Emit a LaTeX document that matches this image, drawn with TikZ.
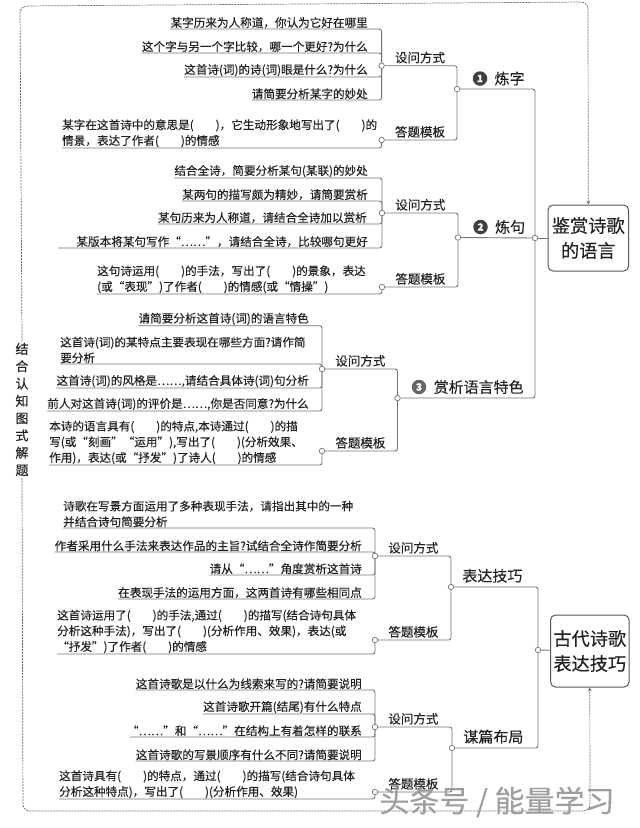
\documentclass[tikz,border=0pt]{standalone}
\usepackage{fontspec}
\usepackage{xcolor}
\usetikzlibrary{arrows,positioning,backgrounds}
\setmainfont[FakeBold=0.25]{Noto Sans CJK SC}
\definecolor{ink}{rgb}{0.13,0.13,0.13}
\definecolor{wire}{rgb}{0.45,0.45,0.45}
\newcommand{\kh}{(\hspace{1.9em})}
\tikzset{
  leaf/.style={font=\fontsize{11.6}{15.7}\selectfont,text=ink,inner xsep=0pt,inner ysep=0.6pt,align=left},
  sublabel/.style={font=\fontsize{12.5}{15}\selectfont,text=ink,inner sep=0pt},
  biglabel/.style={font=\fontsize{15}{18}\selectfont,text=ink,inner sep=0pt},
  numdot/.style={circle,fill=black!75,text=white,inner sep=0pt,minimum size=14.5pt,font=\fontsize{10}{10}\selectfont\bfseries},
  jun/.style={circle,draw=wire,fill=white,line width=0.7pt,inner sep=0pt,minimum size=5.5pt},
  link/.style={draw=wire,line width=0.9pt,rounded corners=2.5pt},
  bigbox/.style={draw=black!65,line width=1pt,rounded corners=5pt,fill=white,inner sep=0pt,align=center,
    text=ink,font=\fontsize{18.2}{25}\selectfont},
  frame/.style={draw=black!60,line width=0.7pt,dash pattern=on 2pt off 1pt,rounded corners=7pt},
}
\begin{document}
\begin{tikzpicture}[x=1pt,y=-1pt]
  \useasboundingbox (0,0) rectangle (640,828);
  % the two boxes on the right
  \node[bigbox,minimum width=80.6pt,minimum height=66pt] (yuyan) at (588.3,238) {鉴赏诗歌\\的语言};
  \node[bigbox,minimum width=78.5pt,minimum height=72pt] (jiqiao) at (589.8,651) {古代诗歌\\表达技巧};
  \node[jun] (J1) at (535,238) {};
  \node[jun] (J2) at (538,650) {};
  % junctions
  \node[jun] (j1a) at (381.6,65.7) {};
  \node[jun] (j1b) at (381.6,140) {};
  \node[jun] (j1) at (457,89) {};
  \node[jun] (j2a) at (382,213) {};
  \node[jun] (j2b) at (382,287) {};
  \node[jun] (j2) at (458,237.5) {};
  \node[jun] (j3a) at (322,369) {};
  \node[jun] (j3b) at (322,451) {};
  \node[jun] (j3) at (397.5,398) {};
  \node[jun] (j4a) at (375,556) {};
  \node[jun] (j4b) at (375,640) {};
  \node[jun] (j4) at (451,587) {};
  \node[jun] (j5a) at (375,727) {};
  \node[jun] (j5b) at (375,792) {};
  \node[jun] (j5) at (452,748) {};
  % 炼字
  \node[leaf,anchor=south east] (a1) at (368,29) {某字历来为人称道，你认为它好在哪里};
  \node[leaf,anchor=south east] (a2) at (368,53) {这个字与另一个字比较，哪一个更好?为什么};
  \node[leaf,anchor=south east] (a3) at (368,77) {这首诗(词)的诗(词)眼是什么?为什么};
  \node[leaf,anchor=south east] (a4) at (368,100) {请简要分析某字的妙处};
  \node[leaf,anchor=south west] (a5) at (62,148) {某字在这首诗中的意思是\kh，它生动形象地写出了\kh 的\\情景，表达了作者\kh 的情感};
  % 炼句
  \node[leaf,anchor=south east] (b1) at (368,178) {结合全诗，简要分析某句(某联)的妙处};
  \node[leaf,anchor=south east] (b2) at (368,201) {某两句的描写颇为精妙，请简要赏析};
  \node[leaf,anchor=south east] (b3) at (367,224) {某句历来为人称道，请结合全诗加以赏析};
  \node[leaf,anchor=south east] (b4) at (368,248) {某版本将某句写作“……”，请结合全诗，比较哪句更好};
  \coordinate (b4s) at (58,248);
  \node[leaf,anchor=south west] (b5) at (97,294) {这句诗运用\kh 的手法，写出了\kh 的景象，表达\\(或“表现”)了作者\kh 的情感(或“情操”)};
  % 赏析语言特色
  \node[leaf,anchor=south east] (c1) at (309,325.7) {请简要分析这首诗(词)的语言特色};
  \node[leaf,anchor=south west] (c2) at (60,364) {这首诗(词)的某特点主要表现在哪些方面?请作简\\要分析};
  \node[leaf,anchor=south east] (c3) at (309,388) {这首诗(词)的风格是……,请结合具体诗(词)句分析};
  \node[leaf,anchor=south east] (c4) at (309,411) {前人对这首诗(词)的评价是……,你是否同意?为什么};
  \node[leaf,anchor=south west] (c5) at (49,465) {本诗的语言具有\kh 的特点,本诗通过\kh 的描\\写(或“刻画”“运用”),写出了\kh (分析效果、\\作用)，表达(或“抒发”)了诗人\kh 的情感};
  % 表达技巧
  \node[leaf,anchor=south west] (d1) at (63,528) {诗歌在写景方面运用了多种表现手法，请指出其中的一种\\并结合诗句简要分析};
  \node[leaf,anchor=south east] (d2) at (362,552) {作者采用什么手法来表达作品的主旨?试结合全诗作简要分析};
  \node[leaf,anchor=south east] (d3) at (362,575) {请从“……”角度赏析这首诗};
  \node[leaf,anchor=south east] (d4) at (362,599) {在表现手法的运用方面，这两首诗有哪些相同点};
  \node[leaf,anchor=south west] (d5) at (57,654) {这首诗运用了\kh 的手法,通过\kh 的描写(结合诗句具体\\分析这种手法)，写出了\kh (分析作用、效果)，表达(或\\“抒发”)了作者\kh 的情感};
  % 谋篇布局
  \node[leaf,anchor=south east] (e1) at (362,690) {这首诗歌是以什么为线索来写的?请简要说明};
  \node[leaf,anchor=south east] (e2) at (362,714) {这首诗歌开篇(结尾)有什么特点};
  \node[leaf,anchor=south east] (e3) at (362,737) {“……”和“……”在结构上有着怎样的联系};
  \coordinate (e3s) at (130,737);
  \node[leaf,anchor=south east] (e4) at (362,761) {这首诗歌的写景顺序有什么不同?请简要说明};
  \node[leaf,anchor=south west] (e5) at (59,799) {这首诗具有\kh 的特点，通过\kh 的描写(结合诗句具体\\分析这种特点)，写出了\kh (分析作用、效果)};
  % branch labels
  \node[sublabel,above right=0pt and 11pt of j1a] (l1a) {设问方式};
  \node[sublabel,above right=0pt and 11pt of j1b] (l1b) {答题模板};
  \node[sublabel,above right=0pt and 11pt of j2a] (l2a) {设问方式};
  \node[sublabel,above right=0pt and 11pt of j2b] (l2b) {答题模板};
  \node[sublabel,above right=0pt and 11pt of j3a] (l3a) {设问方式};
  \node[sublabel,above right=0pt and 11pt of j3b] (l3b) {答题模板};
  \node[sublabel,above right=0pt and 11pt of j4a] (l4a) {设问方式};
  \node[sublabel,above right=0pt and 11pt of j4b] (l4b) {答题模板};
  \node[sublabel,above right=0pt and 11pt of j5a] (l5a) {设问方式};
  \node[sublabel,above right=0pt and 11pt of j5b] (l5b) {答题模板};
  \node[numdot] (n1) at (480,78.5) {1};
  \node[biglabel,right=7pt of n1] (t1) {炼字};
  \node[numdot] (n2) at (480.5,227) {2};
  \node[biglabel,right=7pt of n2] (t2) {炼句};
  \node[numdot,fill=black!60] (n3) at (419,387) {3};
  \node[biglabel,right=7pt of n3] (t3) {赏析语言特色};
  \node[biglabel,above right=2pt and 9pt of j4] (t4) {表达技巧};
  \node[biglabel,above right=2pt and 9pt of j5] (t5) {谋篇布局};
  % side label
  \node[font=\fontsize{13}{17.3}\selectfont,text=ink,fill=white,align=center,inner xsep=1pt,inner ysep=2pt] (tag) at (22,409.5) {结\\合\\认\\知\\图\\式\\解\\题};
  \coordinate (tl) at (20,6);
  \coordinate (tr) at (588,2);
  \coordinate (bl) at (23,811);
  \coordinate (br) at (590,811);
  % connectors
  \begin{scope}[on background layer]
    \draw[link] (a1.south west) -| (j1a);
    \draw[link] (a2.south west) -| (j1a);
    \draw[link] (a3.south west) -| (j1a);
    \draw[link] (a4.south west) -| (j1a);
    \draw[link] (a5.south west) -| (j1b);
    \draw[link] (j1a) -| (j1);
    \draw[link] (j1b) -| (j1);
    \draw[link] (j1) -| (J1);
    \draw[link] (b1.south west) -| (j2a);
    \draw[link] (b2.south west) -| (j2a);
    \draw[link] (b3.south west) -| (j2a);
    \draw[link] (b4s) -| (j2a);
    \draw[link] (b5.south west) -| (j2b);
    \draw[link] (j2a) -| (j2);
    \draw[link] (j2b) -| (j2);
    \draw[link] (j2) -- (J1);
    \draw[link] (c1.south west) -| (j3a);
    \draw[link] (c2.south west) -| (j3a);
    \draw[link] (c3.south west) -| (j3a);
    \draw[link] (c4.south west) -| (j3a);
    \draw[link] (c5.south west) -| (j3b);
    \draw[link] (j3a) -| (j3);
    \draw[link] (j3b) -| (j3);
    \draw[link] (j3) -| (J1);
    \draw[link] (J1) -- (yuyan);
    \draw[link] (d1.south west) -| (j4a);
    \draw[link] (d2.south west) -| (j4a);
    \draw[link] (d3.south west) -| (j4a);
    \draw[link] (d4.south west) -| (j4a);
    \draw[link] (d5.south west) -| (j4b);
    \draw[link] (j4a) -| (j4);
    \draw[link] (j4b) -| (j4);
    \draw[link] (j4) -| (J2);
    \draw[link] (e1.south west) -| (j5a);
    \draw[link] (e2.south west) -| (j5a);
    \draw[link] (e3s) -| (j5a);
    \draw[link] (e4.south west) -| (j5a);
    \draw[link] (e5.south west) -| (j5b);
    \draw[link] (j5a) -| (j5);
    \draw[link] (j5b) -| (j5);
    \draw[link] (j5) -| (J2);
    \draw[link] (J2) -- (jiqiao);
    \draw[frame,-stealth] (tag.north) -- (tl) -- (tr) -- (yuyan.north);
    \draw[frame,-stealth] (tag.south) -- (bl) -- (br) -- (jiqiao.south);
  \end{scope}
  % watermark
  \node[font=\fontsize{30}{30}\selectfont,text=black!38,inner sep=0pt] (wm) at (497,802) {头条号 / 能量学习};
\end{tikzpicture}
\end{document}
